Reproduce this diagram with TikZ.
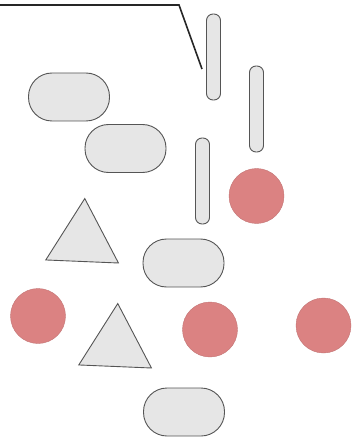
\documentclass[tikz,border=0pt]{standalone}
\usepackage{tikz}
\usetikzlibrary{shapes.geometric}
\usepackage{xcolor}
\definecolor{pillFill}{HTML}{E6E6E6}
\definecolor{pillLine}{HTML}{555555}
\definecolor{dotFill}{HTML}{DB8282}
\definecolor{dotLine}{HTML}{C27474}

\begin{document}
\begin{tikzpicture}[
        x=1pt, y=-1pt,
        hpill/.style={
            draw=pillLine,
            fill=pillFill,
            line width=0.9pt,
            minimum width=81pt,
            minimum height=48pt,
            inner sep=0pt,
            rounded corners=23.5pt
        },
        vpill/.style={
            draw=pillLine,
            fill=pillFill,
            line width=0.9pt,
            minimum width=14pt,
            minimum height=86pt,
            inner sep=0pt,
            rounded corners=6.5pt
        },
        dot/.style={
            circle,
            draw=dotLine,
            fill=dotFill,
            line width=0.4pt,
            minimum size=55pt,
            inner sep=0pt
        },
        tri/.style={
            regular polygon,
            regular polygon sides=3,
            draw=pillLine,
            fill=pillFill,
            line width=0.9pt,
            minimum size=84pt,
            inner sep=0pt,
            rotate=-2.4
        },
        wire/.style={
            draw=black!85,
            line width=1.6pt
        }
    ]

    \useasboundingbox (0,0) rectangle (352,438);

    % upright pills
    \node[vpill] (vA) at (213.5, 57) {};
    \node[vpill] (vB) at (256.5, 109) {};
    \node[vpill] (vC) at (202.5, 181) {};

    % flat pills
    \node[hpill] (hA) at (69, 97) {};
    \node[hpill] (hB) at (125.5, 148.5) {};
    \node[hpill] (hC) at (183.5, 263) {};
    \node[hpill] (hD) at (184, 412) {};

    % red dots
    \node[dot] (dA) at (256.5, 196) {};
    \node[dot] (dB) at (210, 329.5) {};
    \node[dot] (dC) at (323.5, 325.5) {};
    \node[dot] (dD) at (38, 316) {};

    % triangles
    \node[tri] (tA) at (83, 240.5) {};
    \node[tri] (tB) at (116, 345.5) {};

    % wire from the left edge
    \coordinate (wireStart) at (0, 5);
    \coordinate (wireBend) at (179, 5);
    \coordinate (wireEnd) at (202, 69);
    \draw[wire] (wireStart) -- (wireBend) -- (wireEnd);

\end{tikzpicture}
\end{document}
